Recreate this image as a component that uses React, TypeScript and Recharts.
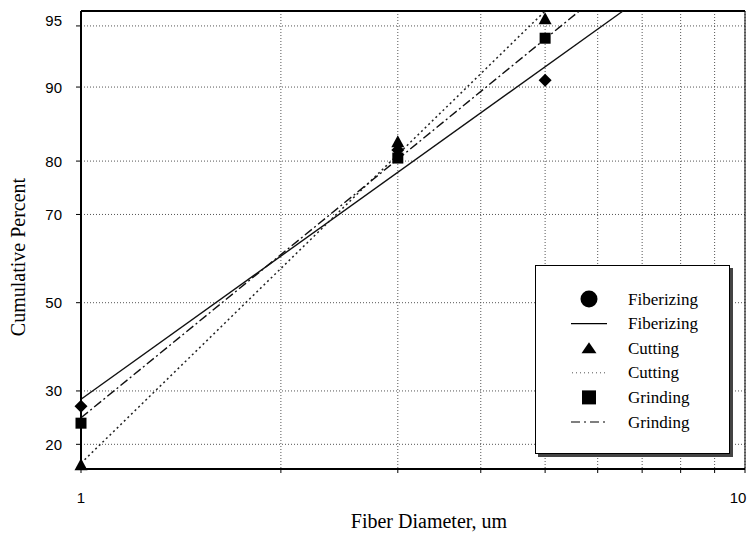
import React from 'react';
import {
  ComposedChart,
  Line,
  Scatter,
  XAxis,
  YAxis,
  CartesianGrid,
  ReferenceLine,
  Legend,
} from 'recharts';

// ---------- data ----------
const diameters = [1, 3, 5];
const fiberizingPct = [26.9, 81.8, 90.7];
const cuttingPct = [16.7, 83.0, 95.4];
const grindingPct = [23.7, 80.5, 94.2];

// fitted lines: end points (x in um, cumulative percent)
const fiberizingFitX = [1, 6.55];
const fiberizingFitPct = [28.3, 95.85];
const cuttingFitX = [1, 5.0];
const cuttingFitPct = [17.0, 95.85];
const grindingFitX = [1, 5.63];
const grindingFitPct = [24.7, 95.85];

const percentTicks = [20, 30, 50, 70, 80, 90, 95];
const xTicks = [1, 2, 3, 4, 5, 6, 7, 8, 9, 10];
const xTickLabels = ['1', '', '', '', '', '', '', '', '', '10'];
const pctDomain = [16.15, 95.85];

// ---------- probability (normal quantile) transform ----------
function probit(p: number): number {
  const a = [-3.969683028665376e1, 2.209460984245205e2, -2.759285104469687e2, 1.38357751867269e2, -3.066479806614716e1, 2.506628277459239];
  const b = [-5.447609879822406e1, 1.615858368580409e2, -1.556989798598866e2, 6.680131188771972e1, -1.328068155288572e1];
  const c = [-7.784894002430293e-3, -3.223964580411365e-1, -2.400758277161838, -2.549732539343734, 4.374664141464968, 2.938163982698783];
  const d = [7.784695709041462e-3, 3.224671290700398e-1, 2.445134137142996, 3.754408661907416];
  const plow = 0.02425;
  const phigh = 1 - plow;
  if (p < plow) {
    const q = Math.sqrt(-2 * Math.log(p));
    return (((((c[0] * q + c[1]) * q + c[2]) * q + c[3]) * q + c[4]) * q + c[5]) / ((((d[0] * q + d[1]) * q + d[2]) * q + d[3]) * q + 1);
  }
  if (p <= phigh) {
    const q = p - 0.5;
    const r = q * q;
    return ((((((a[0] * r + a[1]) * r + a[2]) * r + a[3]) * r + a[4]) * r + a[5]) * q) / (((((b[0] * r + b[1]) * r + b[2]) * r + b[3]) * r + b[4]) * r + 1);
  }
  const q = Math.sqrt(-2 * Math.log(1 - p));
  return -(((((c[0] * q + c[1]) * q + c[2]) * q + c[3]) * q + c[4]) * q + c[5]) / ((((d[0] * q + d[1]) * q + d[2]) * q + d[3]) * q + 1);
}

const toZ = (pct: number) => probit(pct / 100);
const zTicks = percentTicks.map(toZ);
const zDomain = [toZ(pctDomain[0]), toZ(pctDomain[1])];

const build = (xs: number[], ps: number[]) => xs.map((x, i) => ({ x, z: toZ(ps[i]) }));

const fiberizingPts = build(diameters, fiberizingPct);
const cuttingPts = build(diameters, cuttingPct);
const grindingPts = build(diameters, grindingPct);
const fiberizingFit = build(fiberizingFitX, fiberizingFitPct);
const cuttingFit = build(cuttingFitX, cuttingFitPct);
const grindingFit = build(grindingFitX, grindingFitPct);

const SERIF = '"Liberation Serif", "Times New Roman", serif';
const SANS = '"Liberation Sans", Arial, sans-serif';

// ---------- marker shapes ----------
const Diamond = (props: any) => {
  const { cx, cy } = props;
  const s = 6.5;
  return <polygon points={`${cx},${cy - s} ${cx + s},${cy} ${cx},${cy + s} ${cx - s},${cy}`} fill="#000" />;
};
const Triangle = (props: any) => {
  const { cx, cy } = props;
  return <polygon points={`${cx},${cy - 7} ${cx + 6.5},${cy + 5} ${cx - 6.5},${cy + 5}`} fill="#000" />;
};
const Square = (props: any) => {
  const { cx, cy } = props;
  return <rect x={cx - 5.5} y={cy - 5.5} width={11} height={11} fill="#000" />;
};

const YTick = (props: any) => {
  const { x, y, index } = props;
  const label = String(percentTicks[index] ?? '');
  const dy = label === '95' ? -5 : 0;
  return (
    <text x={x} y={y + dy} textAnchor="end" dominantBaseline="central" fontFamily={SANS} fontSize={15} fill="#000">
      {label}
    </text>
  );
};

const XTick = (props: any) => {
  const { x, y, index } = props;
  const label = xTickLabels[index] ?? '';
  if (!label) return null;
  const dx = label === '10' ? -7 : 0;
  return (
    <text x={x + dx} y={y} dy="0.71em" textAnchor="middle" fontFamily={SANS} fontSize={15} fill="#000">
      {label}
    </text>
  );
};

const legendRows = [
  { kind: 'circle', label: 'Fiberizing' },
  { kind: 'solid', label: 'Fiberizing' },
  { kind: 'triangle', label: 'Cutting' },
  { kind: 'dotted', label: 'Cutting' },
  { kind: 'square', label: 'Grinding' },
  { kind: 'dashdot', label: 'Grinding' },
];

const LegendBox = () => {
  const mx = 53;
  return (
    <div
      style={{
        width: 195,
        height: 189,
        border: '1px solid #000',
        background: '#fff',
        boxShadow: '3px 3px 0 #444',
        boxSizing: 'border-box',
      }}
    >
      <svg width={193} height={187} style={{ display: 'block' }}>
        {legendRows.map((r, i) => {
          const cy = 33 + i * 24.6;
          let sym: React.ReactNode = null;
          if (r.kind === 'circle') sym = <circle cx={mx} cy={cy} r={8.5} fill="#000" />;
          if (r.kind === 'solid') sym = <line x1={mx - 18} x2={mx + 18} y1={cy} y2={cy} stroke="#000" strokeWidth={1.2} />;
          if (r.kind === 'triangle') sym = <polygon points={`${mx},${cy - 6} ${mx + 7.5},${cy + 5} ${mx - 7.5},${cy + 5}`} fill="#000" />;
          if (r.kind === 'dotted') sym = <line x1={mx - 17} x2={mx + 17} y1={cy} y2={cy} stroke="#555" strokeWidth={1} strokeDasharray="1 3" />;
          if (r.kind === 'square') sym = <rect x={mx - 7} y={cy - 7} width={14} height={14} fill="#000" />;
          if (r.kind === 'dashdot') sym = <line x1={mx - 18} x2={mx + 18} y1={cy} y2={cy} stroke="#000" strokeWidth={1.2} strokeDasharray="9 4 2 4" />;
          return (
            <g key={i}>
              {sym}
              <text x={92} y={cy} dominantBaseline="central" fontFamily={SERIF} fontSize={17} fill="#000">
                {r.label}
              </text>
            </g>
          );
        })}
      </svg>
    </div>
  );
};

export default function App() {
  return (
    <div style={{ position: 'absolute', left: 0, top: 0, width: 747, height: 537, background: '#fff' }}>
      <ComposedChart width={747} height={537} margin={{ top: 11, right: 2, bottom: 0, left: 0 }}>
        <CartesianGrid stroke="#555" strokeDasharray="1 2" strokeWidth={1} />
        <XAxis
          dataKey="x"
          type="number"
          scale="log"
          domain={[1, 10]}
          ticks={xTicks}
          interval={0}
          height={68}
          tick={<XTick />}
          tickSize={4}
          tickMargin={19}
          axisLine={{ stroke: '#000', strokeWidth: 2 }}
          tickLine={{ stroke: '#000' }}
          label={{
            content: () => (
              <text x={429} y={528} textAnchor="middle" fontFamily={SERIF} fontSize={20} fill="#000">
                Fiber Diameter, um
              </text>
            ),
          }}
        />
        <YAxis
          dataKey="z"
          type="number"
          domain={zDomain}
          ticks={zTicks}
          interval={0}
          width={81}
          tick={<YTick />}
          tickSize={5}
          tickMargin={14}
          axisLine={{ stroke: '#000', strokeWidth: 2 }}
          tickLine={{ stroke: '#000' }}
          label={{
            content: () => (
              <text transform="rotate(-90)" x={-257} y={25} textAnchor="middle" fontFamily={SERIF} fontSize={20} fill="#000">
                Cumulative Percent
              </text>
            ),
          }}
        />
        <ReferenceLine y={zDomain[1]} stroke="#000" strokeWidth={2} />
        <ReferenceLine x={10} stroke="#000" strokeWidth={1} />

        <Line data={fiberizingFit} dataKey="z" type="linear" stroke="#111" strokeWidth={1.4} dot={false} isAnimationActive={false} legendType="none" />
        <Line data={cuttingFit} dataKey="z" type="linear" stroke="#222" strokeWidth={1.5} strokeDasharray="2 3" dot={false} isAnimationActive={false} legendType="none" />
        <Line data={grindingFit} dataKey="z" type="linear" stroke="#111" strokeWidth={1.4} strokeDasharray="9 3 2 3" dot={false} isAnimationActive={false} legendType="none" />

        <Scatter data={fiberizingPts} dataKey="z" shape={<Diamond />} isAnimationActive={false} />
        <Scatter data={grindingPts} dataKey="z" shape={<Square />} isAnimationActive={false} />
        <Scatter data={cuttingPts} dataKey="z" shape={<Triangle />} isAnimationActive={false} />

        <Legend
          layout="horizontal"
          verticalAlign="middle"
          align="center"
          content={() => <LegendBox />}
          wrapperStyle={{ position: 'absolute', left: 535, top: 265, width: 198, height: 192 }}
        />
      </ComposedChart>
    </div>
  );
}
